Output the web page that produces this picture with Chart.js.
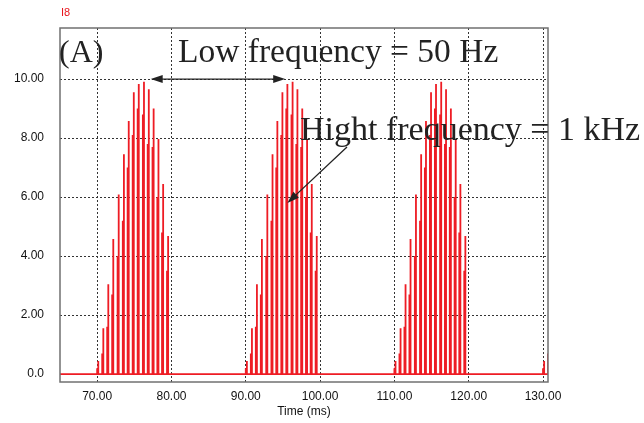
<!DOCTYPE html>
<html>
<head>
<meta charset="utf-8">
<script src="https://cdn.jsdelivr.net/npm/chart.js@4.4.1/dist/chart.umd.min.js"></script>
<style>
  html, body { margin: 0; padding: 0; background: #fff; }
  #wrap { width: 644px; height: 423px; }
</style>
</head>
<body>
<div id="wrap"><canvas id="grafico" width="644" height="423"></canvas></div>
<script>
// Dados (corrente I8 em função do tempo)
const burstStarts = [70, 90, 110, 130];          // início de cada rajada (ms), 50 Hz
const pulseOffsets = [0.15, 0.83, 1.5, 2.17, 2.9, 3.6, 4.25, 4.93, 5.6, 6.3, 6.95, 7.6, 8.25, 8.88, 9.55];
const mainPeaks = [0.44, 1.55, 3.04, 4.58, 6.09, 7.45, 8.58, 9.55, 9.83, 9.91, 9.65, 9.0, 7.97, 6.44, 4.68];
const leadPeaks = [0.2, 0.7, 1.6, 2.7, 4.0, 5.2, 7.0, 8.1, 9.0, 8.8, 7.8, 7.7, 6.0, 4.8, 3.5];
const leadShift = 0.15;                           // ms antes do pico principal
const xTicks = [70, 80, 90, 100, 110, 120, 130];
const yTicks = [0, 2, 4, 6, 8, 10];
const yTickLabels = ["0.0", "2.00", "4.00", "6.00", "8.00", "10.00"];

// Montar a forma de onda
const pontos = [{ x: 64, y: 0 }];
burstStarts.forEach(b => {
    pulseOffsets.forEach((off, i) => {
        const t = b + off;
        const tl = t - leadShift;
        pontos.push({ x: tl, y: 0 }, { x: tl, y: leadPeaks[i] }, { x: tl, y: 0 });
        pontos.push({ x: t, y: 0 }, { x: t, y: mainPeaks[i] }, { x: t, y: 0 });
    });
});
pontos.push({ x: 132, y: 0 });

const serif = "'Liberation Serif', 'DejaVu Serif', serif";

function seta(ctx, x1, y1, x2, y2) {
    const ang = Math.atan2(y2 - y1, x2 - x1);
    const len = 12, w = 4;
    ctx.beginPath();
    ctx.moveTo(x1, y1);
    ctx.lineTo(x2 - Math.cos(ang) * len * 0.8, y2 - Math.sin(ang) * len * 0.8);
    ctx.stroke();
    ctx.beginPath();
    ctx.moveTo(x2, y2);
    ctx.lineTo(x2 - Math.cos(ang) * len - Math.sin(ang) * w, y2 - Math.sin(ang) * len + Math.cos(ang) * w);
    ctx.lineTo(x2 - Math.cos(ang) * len + Math.sin(ang) * w, y2 - Math.sin(ang) * len - Math.cos(ang) * w);
    ctx.closePath();
    ctx.fill();
}

// Moldura e anotações
const anotacoes = {
    id: "anotacoes",
    afterDraw(chart) {
        const ctx = chart.ctx;
        const a = chart.chartArea;
        const xs = chart.scales.x, ys = chart.scales.y;
        ctx.save();
        ctx.strokeStyle = "#707070";
        ctx.lineWidth = 1.5;
        ctx.strokeRect(a.left, a.top, a.right - a.left, a.bottom - a.top);

        ctx.fillStyle = "#e8141c";
        ctx.font = "11px 'Liberation Sans', Arial, sans-serif";
        ctx.textBaseline = "middle";
        ctx.fillText("I8", 61, 13);

        ctx.fillStyle = "#222";
        ctx.strokeStyle = "#222";
        ctx.lineWidth = 1.3;
        ctx.textBaseline = "alphabetic";
        ctx.font = "32px " + serif;
        ctx.fillText("(A)", 59, 62);
        ctx.font = "33.5px " + serif;
        ctx.fillText("Low frequency = 50 Hz", 178, 62);
        ctx.font = "34px " + serif;
        ctx.fillText("Hight frequency = 1 kHz", 300, 140);

        const yArrow = ys.getPixelForValue(10);
        const xa = xs.getPixelForValue(77.2), xb = xs.getPixelForValue(95.3);
        seta(ctx, (xa + xb) / 2, yArrow, xa, yArrow);
        seta(ctx, (xa + xb) / 2, yArrow, xb, yArrow);
        seta(ctx, 347, 147, xs.getPixelForValue(95.6), ys.getPixelForValue(5.8));
        ctx.restore();
    }
};

const grid = {
    color: "#333",
    lineWidth: 1,
    drawTicks: false
};

new Chart(document.getElementById("grafico").getContext("2d"), {
    type: "line",
    data: {
        datasets: [{
            label: "I8",
            data: pontos,
            borderColor: "#ee1c24",
            borderWidth: 1.8,
            pointRadius: 0,
            tension: 0,
            fill: false
        }]
    },
    options: {
        responsive: false,
        animation: false,
        layout: { padding: { left: 0, right: 96, top: 28, bottom: 0 } },
        plugins: {
            legend: { display: false },
            tooltip: { enabled: false }
        },
        scales: {
            x: {
                type: "linear",
                min: 65,
                max: 130.67,
                afterBuildTicks: axis => { axis.ticks = xTicks.map(v => ({ value: v })); },
                afterFit: axis => { axis.height = 41; },
                border: { display: false, dash: [2, 2] },
                grid: grid,
                ticks: {
                    color: "#111",
                    padding: 7,
                    maxRotation: 0,
                    font: { family: "'Liberation Sans', Arial, sans-serif", size: 12 },
                    callback: v => v.toFixed(2)
                },
                title: {
                    display: true,
                    text: "Time (ms)",
                    color: "#111",
                    padding: { top: 0, bottom: 4 },
                    font: { family: "'Liberation Sans', Arial, sans-serif", size: 12 }
                }
            },
            y: {
                min: -0.27,
                max: 11.73,
                afterBuildTicks: axis => { axis.ticks = yTicks.map(v => ({ value: v })); },
                afterFit: axis => { axis.width = 60; },
                border: { display: false, dash: [2, 2] },
                grid: grid,
                ticks: {
                    color: "#111",
                    padding: 16,
                    font: { family: "'Liberation Sans', Arial, sans-serif", size: 12 },
                    callback: v => yTickLabels[yTicks.indexOf(v)]
                }
            }
        }
    },
    plugins: [anotacoes]
});
</script>
</body>
</html>
